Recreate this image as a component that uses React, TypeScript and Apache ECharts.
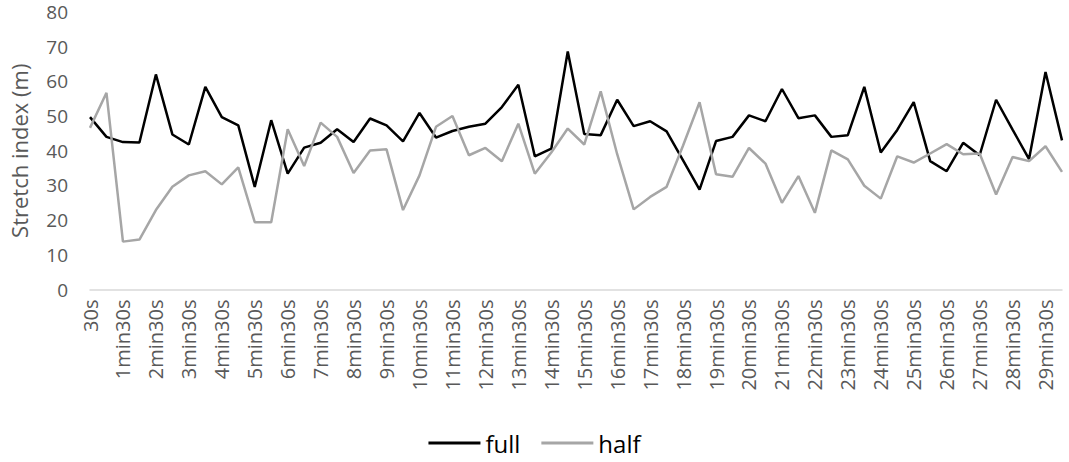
import React, { useEffect, useRef } from "react";
import * as echarts from "echarts";

const categories = [
  "30s", "1min", "1min30s", "2min", "2min30s", "3min", "3min30s", "4min", "4min30s", "5min",
  "5min30s", "6min", "6min30s", "7min", "7min30s", "8min", "8min30s", "9min", "9min30s", "10min",
  "10min30s", "11min", "11min30s", "12min", "12min30s", "13min", "13min30s", "14min", "14min30s", "15min",
  "15min30s", "16min", "16min30s", "17min", "17min30s", "18min", "18min30s", "19min", "19min30s", "20min",
  "20min30s", "21min", "21min30s", "22min", "22min30s", "23min", "23min30s", "24min", "24min30s", "25min",
  "25min30s", "26min", "26min30s", "27min", "27min30s", "28min", "28min30s", "29min", "29min30s", "30min",
];

const fullValues = [
  49.7, 44.0, 42.5, 42.4, 62.0, 44.7, 41.8, 58.4, 49.7, 47.3,
  29.6, 48.8, 33.4, 40.9, 42.3, 46.2, 42.5, 49.3, 47.3, 42.7,
  50.9, 43.8, 45.7, 46.9, 47.8, 52.6, 59.0, 38.4, 40.6, 68.6,
  44.8, 44.5, 54.7, 47.1, 48.5, 45.6, 37.2, 28.8, 42.8, 44.0,
  50.2, 48.5, 57.8, 49.4, 50.2, 44.0, 44.5, 58.4, 39.5, 46.0,
  54.0, 37.0, 34.1, 42.3, 38.7, 54.7, 46.1, 37.6, 62.7, 43.0,
];

const halfValues = [
  46.6, 56.7, 13.8, 14.4, 22.9, 29.6, 32.9, 34.1, 30.3, 35.2,
  19.4, 19.4, 46.2, 35.6, 48.1, 44.0, 33.6, 40.1, 40.4, 22.9,
  32.9, 46.9, 50.0, 38.7, 40.8, 37.0, 47.8, 33.4, 39.5, 46.4,
  41.8, 57.1, 39.0, 23.1, 26.7, 29.6, 41.5, 54.0, 33.2, 32.5,
  40.8, 36.3, 25.0, 32.7, 22.1, 40.1, 37.5, 29.9, 26.2, 38.4,
  36.6, 39.2, 41.9, 39.0, 39.2, 27.4, 38.2, 37.0, 41.3, 33.9,
];

const yTicks = { min: 0, max: 80, interval: 10 };

export default function App() {
  const ref = useRef<HTMLDivElement>(null);
  useEffect(() => {
    if (!ref.current) return;
    const chart = echarts.init(ref.current, null, { renderer: "svg" });
    const font = "'Open Sans', 'Noto Sans', sans-serif";
    chart.setOption({
      animation: false,
      textStyle: { fontFamily: font },
      grid: { left: 85, right: 7, top: 12, bottom: 172.5, containLabel: false },
      legend: {
        bottom: 2,
        left: "center",
        icon: "rect",
        itemWidth: 52,
        itemHeight: 3,
        itemGap: 21,
        textStyle: { fontSize: 24, color: "#000", fontFamily: font },
        data: ["full", "half"],
      },
      xAxis: {
        type: "category",
        data: categories,
        boundaryGap: false,
        axisLine: { show: true, lineStyle: { color: "#d9d9d9", width: 1.5 } },
        axisTick: { show: false },
        axisLabel: {
          rotate: 90,
          interval: 1,
          margin: 10,
          fontSize: 20,
          color: "#595959",
          fontFamily: font,
        },
        splitLine: { show: false },
      },
      yAxis: {
        type: "value",
        min: yTicks.min,
        max: yTicks.max,
        interval: yTicks.interval,
        name: "Stretch index (m)",
        nameLocation: "middle",
        nameGap: 60,
        nameTextStyle: { fontSize: 22, color: "#595959", fontFamily: font },
        axisLine: { show: false },
        axisTick: { show: false },
        splitLine: { show: false },
        axisLabel: { fontSize: 19, lineHeight: 19, color: "#595959", margin: 22, fontFamily: font },
      },
      series: [
        {
          name: "full",
          type: "line",
          data: fullValues,
          showSymbol: false,
          symbol: "none",
          lineStyle: { color: "#000000", width: 2.5 },
          itemStyle: { color: "#000000" },
        },
        {
          name: "half",
          type: "line",
          data: halfValues,
          showSymbol: false,
          symbol: "none",
          lineStyle: { color: "#a6a6a6", width: 2.5 },
          itemStyle: { color: "#a6a6a6" },
        },
      ],
    });
    return () => chart.dispose();
  }, []);
  return <div ref={ref} style={{ width: 1069, height: 462, position: "absolute", left: 0, top: 0 }} />;
}
